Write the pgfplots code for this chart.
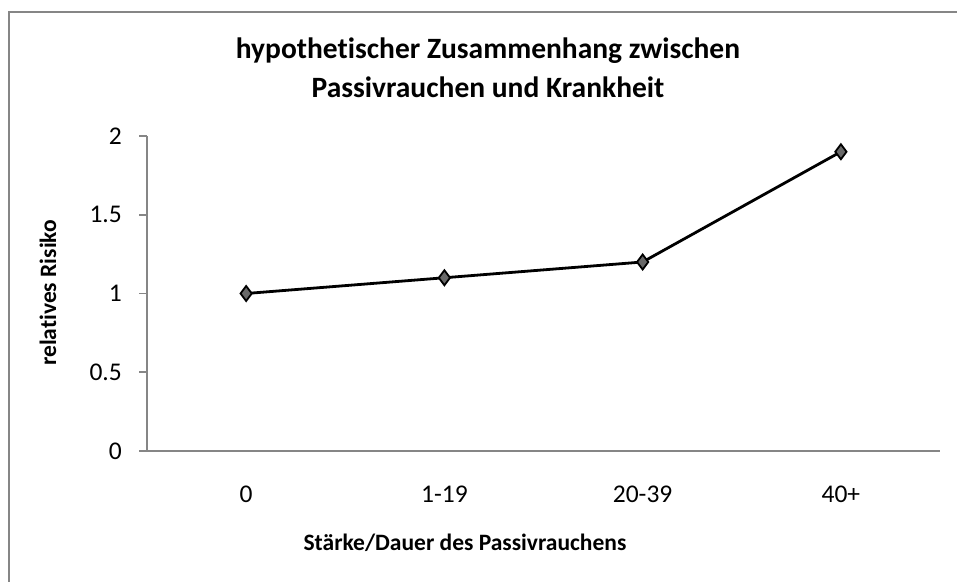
\documentclass[border=0pt]{standalone}
\usepackage{pgfplots}
\pgfplotsset{compat=1.18}
\usepackage{fontspec}
\setmainfont{Carlito}[Ligatures=NoCommon]
\definecolor{axgray}{RGB}{134,134,134}
\definecolor{mkgray}{RGB}{105,105,105}
\begin{document}
\begin{tikzpicture}[x=1pt,y=1pt]
\useasboundingbox (0,0) rectangle (957,581);
\clip (0,0) rectangle (957,581);
\draw[axgray, line width=2pt] (9,-10) -- (9,569.3) -- (970,569.3);
\begin{axis}[
  at={(147pt,130pt)}, anchor=south west,
  scale only axis, width=793pt, height=315pt,
  xmin=-0.5, xmax=3.5, ymin=0, ymax=2,
  axis x line=bottom, axis y line=left,
  axis line style={-, axgray, line width=1.6pt},
  xtick={0,1,2,3}, xticklabels={0,1-19,20-39,40+},
  ytick={0,0.5,1,1.5,2},
  yticklabels={0,0.5,1,1.5,2},
  tick align=outside, major tick length=8pt,
  xtick style={draw=none},
  ytick style={axgray, line width=1.6pt},
  tick label style={font=\fontsize{25.5}{30}\selectfont, text=black},
  /pgf/number format/assume math mode=true,
  yticklabel style={inner sep=0pt, anchor=east, xshift=-17pt},
  xticklabel style={inner sep=0pt, yshift=-27pt},
  title={hypothetischer Zusammenhang zwischen\\Passivrauchen und Krankheit},
  title style={font=\bfseries\fontsize{29.5}{39}\selectfont, align=center, at={(axis description cs:0.430,1.196)}, anchor=center},
  xlabel={Stärke/Dauer des Passivrauchens},
  xlabel style={font=\bfseries\fontsize{23.5}{28}\selectfont, at={(axis description cs:0.401,-0.292)}, anchor=center},
  ylabel={relatives Risiko},
  ylabel style={font=\bfseries\fontsize{23.5}{28}\selectfont, at={(axis description cs:-0.125,0.502)}, anchor=center, rotate=0},
  clip=false,
]
\addplot[black, line width=2.8pt, mark=diamond*, mark size=7.5pt,
  mark options={fill=mkgray, draw=black, line width=1.8pt}]
  coordinates {(0,1) (1,1.1) (2,1.2) (3,1.9)};
\end{axis}
\end{tikzpicture}
\end{document}
